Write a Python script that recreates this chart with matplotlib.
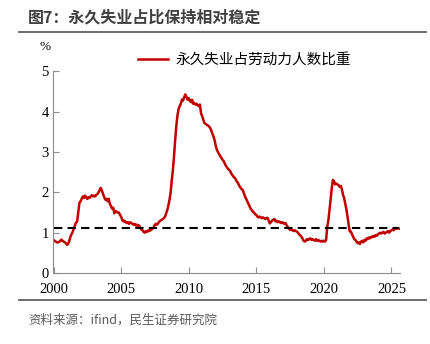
import matplotlib.pyplot as plt
import numpy as np

plt.rcParams['font.family'] = ['Noto Sans CJK SC', 'DejaVu Sans']

# monthly share of permanent job losers in labour force (%), 2000-01 .. 2025-08
vals = {
    2000: [0.82, 0.80, 0.78, 0.76, 0.76, 0.77, 0.80, 0.83, 0.80, 0.78, 0.76, 0.74],
    2001: [0.70, 0.72, 0.80, 0.90, 0.96, 1.02, 1.10, 1.18, 1.25, 1.28, 1.50, 1.74],
    2002: [1.78, 1.84, 1.90, 1.86, 1.92, 1.88, 1.84, 1.88, 1.86, 1.90, 1.93, 1.90],
    2003: [1.92, 1.90, 1.94, 1.96, 2.00, 2.06, 2.11, 2.04, 1.96, 1.88, 1.82, 1.84],
    2004: [1.78, 1.84, 1.72, 1.66, 1.60, 1.62, 1.48, 1.54, 1.52, 1.50, 1.50, 1.44],
    2005: [1.40, 1.32, 1.28, 1.30, 1.26, 1.24, 1.26, 1.22, 1.26, 1.24, 1.22, 1.20],
    2006: [1.22, 1.18, 1.20, 1.16, 1.18, 1.12, 1.08, 1.06, 1.02, 1.00, 1.04, 1.02],
    2007: [1.06, 1.04, 1.06, 1.08, 1.10, 1.14, 1.20, 1.22, 1.20, 1.24, 1.28, 1.30],
    2008: [1.32, 1.34, 1.36, 1.40, 1.48, 1.56, 1.68, 1.82, 2.00, 2.30, 2.56, 2.90],
    2009: [3.30, 3.64, 3.90, 4.06, 4.14, 4.20, 4.30, 4.28, 4.36, 4.43, 4.38, 4.30],
    2010: [4.34, 4.28, 4.24, 4.30, 4.20, 4.22, 4.18, 4.20, 4.16, 4.14, 4.18, 3.96],
    2011: [3.89, 3.80, 3.72, 3.70, 3.68, 3.66, 3.64, 3.60, 3.54, 3.46, 3.39, 3.30],
    2012: [3.16, 3.06, 3.00, 2.95, 2.90, 2.86, 2.81, 2.78, 2.72, 2.66, 2.62, 2.58],
    2013: [2.56, 2.52, 2.46, 2.42, 2.38, 2.36, 2.31, 2.26, 2.22, 2.16, 2.12, 2.08],
    2014: [2.06, 1.98, 1.90, 1.84, 1.78, 1.72, 1.66, 1.60, 1.56, 1.52, 1.50, 1.46],
    2015: [1.44, 1.40, 1.38, 1.40, 1.38, 1.36, 1.38, 1.36, 1.34, 1.36, 1.37, 1.30],
    2016: [1.23, 1.26, 1.30, 1.32, 1.34, 1.28, 1.30, 1.26, 1.28, 1.26, 1.24, 1.26],
    2017: [1.24, 1.22, 1.24, 1.18, 1.14, 1.10, 1.07, 1.08, 1.06, 1.04, 1.06, 1.04],
    2018: [1.03, 1.00, 0.96, 0.94, 0.90, 0.86, 0.80, 0.78, 0.80, 0.84, 0.82, 0.84],
    2019: [0.86, 0.82, 0.84, 0.82, 0.80, 0.84, 0.80, 0.82, 0.80, 0.78, 0.80, 0.78],
    2020: [0.80, 0.78, 0.82, 1.15, 1.30, 1.55, 1.82, 2.10, 2.31, 2.28, 2.20, 2.22],
    2021: [2.20, 2.18, 2.14, 2.16, 2.08, 1.94, 1.86, 1.72, 1.58, 1.40, 1.20, 1.03],
    2022: [1.03, 0.96, 0.90, 0.84, 0.82, 0.78, 0.74, 0.76, 0.72, 0.78, 0.80, 0.76],
    2023: [0.82, 0.80, 0.86, 0.84, 0.88, 0.86, 0.90, 0.89, 0.92, 0.90, 0.94, 0.92],
    2024: [0.96, 0.98, 1.00, 0.98, 1.00, 1.02, 0.98, 1.00, 1.02, 1.04, 1.00, 1.04],
    2025: [1.06, 1.08, 1.06, 1.10, 1.12, 1.10, 1.11, 1.10],
}
avg_level = 1.11
xticks = [2000, 2005, 2010, 2015, 2020, 2025]
yticks = [0, 1, 2, 3, 4, 5]

x = np.array([y + m / 12 for y in vals for m in range(len(vals[y]))])
y = np.concatenate([vals[k] for k in vals])

fig = plt.figure(figsize=(4.31, 3.44), dpi=100)
W, H = 431, 344
ax = fig.add_axes([53.5 / W, (H - 273) / H, (400 - 53.5) / W, 201.5 / H])

ax.plot(x, y, color='#C00000', lw=1.8, label='永久失业占劳动力人数比重')
ax.plot([x[0], x[-1]], [avg_level, avg_level], color='black', lw=1.5, ls=(0, (4, 2.5)))

ax.set_xlim(2000, x[-1] + 0.05)
ax.set_ylim(0, 5)
ax.set_xticks(xticks)
ax.set_yticks(yticks)
for s in ['top', 'right']:
    ax.spines[s].set_visible(False)
for s in ['left', 'bottom']:
    ax.spines[s].set_color('#8c8c8c')
ax.tick_params(direction='in', length=4, color='#8c8c8c', labelsize=10.5)
ax.tick_params(axis='x', pad=7)
for lab in ax.get_xticklabels() + ax.get_yticklabels():
    lab.set_fontfamily('Liberation Serif')

leg = ax.legend(loc='center left', bbox_to_anchor=(125 / W, 1 - 60 / H),
                bbox_transform=fig.transFigure,
                frameon=False, fontsize=10.5, handlelength=2.05, handletextpad=0.5)

fig.text(45 / W, 1 - 47 / H, '%', fontsize=9.5, family='Liberation Serif', va='center', ha='center')
fig.text(28 / W, 1 - 17 / H, '图7：永久失业占比保持相对稳定', fontsize=11.5, fontweight='bold',
         color='#404040', va='center')
fig.add_artist(plt.Line2D([19 / W, 426 / W], [1 - 32 / H, 1 - 32 / H], color='#606060', lw=1.3))
fig.add_artist(plt.Line2D([19 / W, 426 / W], [1 - 300 / H, 1 - 300 / H], color='#606060', lw=1.3))
fig.text(28 / W, 1 - 320 / H, '资料来源：ifind，民生证券研究院', fontsize=9, color='#595959', va='center')

fig.savefig('out.png', dpi=100)
